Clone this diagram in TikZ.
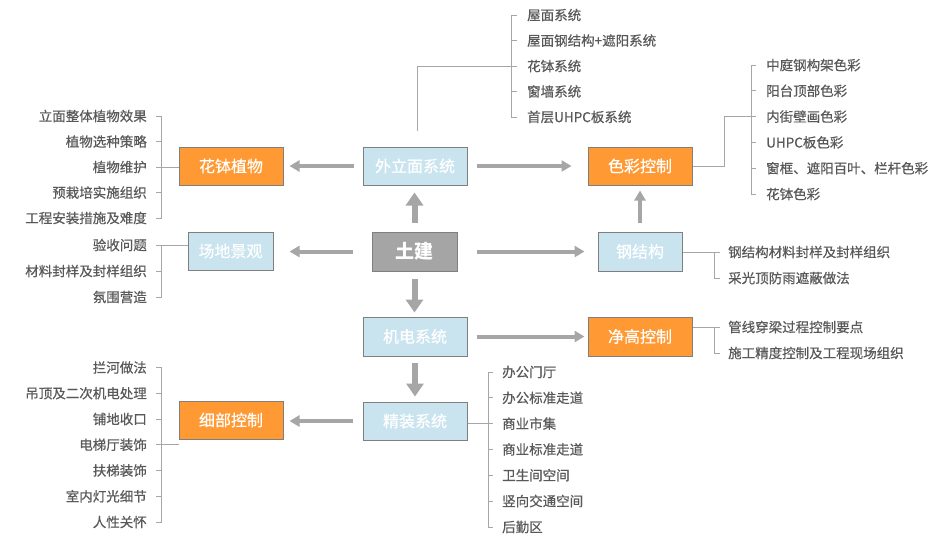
\documentclass[tikz,border=0pt]{standalone}
\usepackage{fontspec}
\setmainfont{Noto Sans CJK SC}
\newfontfamily\leaffont[FakeBold=0.6]{Noto Sans CJK SC}
\newfontfamily\boxfont[FakeBold=0.4]{Noto Sans CJK SC}
\usetikzlibrary{arrows.meta}
\definecolor{leaf}{HTML}{595959}
\definecolor{brgray}{HTML}{A6A6A6}
\definecolor{arrgray}{HTML}{A6A6A6}
\definecolor{boxline}{HTML}{7F7F7F}
\definecolor{lblue}{HTML}{C9E4EF}
\definecolor{orng}{HTML}{FF9933}
\definecolor{tjgray}{HTML}{A5A5A5}
\begin{document}
\begin{tikzpicture}[x=1pt,y=-1pt,
  box/.style={draw=boxline, line width=1pt, inner sep=0pt, minimum width=104pt, minimum height=38pt, text=white, font=\boxfont\fontsize{16}{18}\selectfont},
  bluebox/.style={box, fill=lblue},
  orangebox/.style={box, fill=orng},
  lf/.style={text=leaf, inner sep=0pt, font=\leaffont\fontsize{13.5}{16}\selectfont},
  arr/.style={draw=arrgray, line width=4pt, -{Triangle[length=10pt,width=11pt]}},
  thk/.style={line width=6pt, -{Triangle[length=13pt,width=17pt]}},
  br/.style={draw=brgray, line width=1pt}]
\useasboundingbox (0,0) rectangle (937,542);

% main boxes
\node[orangebox] (huabo) at (231,166) {花钵植物};
\node[bluebox, minimum width=85pt] (changdi) at (230.5,251) {场地景观};
\node[bluebox] (waili) at (415,166) {外立面系统};
\node[orangebox] (secai) at (640,166) {色彩控制};
\node[box, fill=tjgray, minimum width=85pt, minimum height=39pt, font=\bfseries\fontsize{19}{21}\selectfont] (tujian) at (414.5,251.5) {土建};
\node[bluebox, minimum width=84pt, minimum height=39pt] (gang) at (640,251.5) {钢结构};
\node[bluebox, minimum height=39pt] (jidian) at (415,336.5) {机电系统};
\node[orangebox, minimum height=39pt] (jinggao) at (640,336.5) {净高控制};
\node[bluebox] (jingzhuang) at (415,421) {精装系统};
\node[orangebox] (xibu) at (231,420) {细部控制};

% leaves
\foreach \t/\y [count=\i] in {立面整体植物效果/116, 植物选种策略/141.5, 植物维护/167, 预栽培实施组织/192.5, 工程安装措施及难度/218}
  \node[lf, anchor=east] (h\i) at (147,\y) {\t};
\foreach \t/\y [count=\i] in {验收问题/245, 材料封样及封样组织/271, 氛围营造/297}
  \node[lf, anchor=east] (c\i) at (147,\y) {\t};
\foreach \t/\y [count=\i] in {拦河做法/367.5, 吊顶及二次机电处理/393.25, 铺地收口/419, 电梯厅装饰/444.75, 扶梯装饰/470.5, 室内灯光细节/496.25, 人性关怀/522}
  \node[lf, anchor=east] (x\i) at (147,\y) {\t};
\foreach \t/\y [count=\i] in {屋面系统/15, 屋面钢结构+遮阳系统/40.5, 花钵系统/66, 窗墙系统/91.5, 首层UHPC板系统/117}
  \node[lf, anchor=west] (w\i) at (527,\y) {\t};
\foreach \t/\y [count=\i] in {中庭钢构架色彩/65, 阳台顶部色彩/90.8, 内街壁画色彩/116.6, UHPC板色彩/142.4, 窗框、遮阳百叶、栏杆色彩/168.2, 花钵色彩/194}
  \node[lf, anchor=west] (s\i) at (766,\y) {\t};
\foreach \t/\y [count=\i] in {钢结构材料封样及封样组织/252, 采光顶防雨遮蔽做法/278}
  \node[lf, anchor=west] (g\i) at (728,\y) {\t};
\foreach \t/\y [count=\i] in {管线穿梁过程控制要点/327, 施工精度控制及工程现场组织/353}
  \node[lf, anchor=west] (j\i) at (728,\y) {\t};
\foreach \t/\y [count=\i] in {办公门厅/372, 办公标准走道/397.8, 商业市集/423.6, 商业标准走道/449.4, 卫生间空间/475.2, 竖向交通空间/501, 后勤区/527}
  \node[lf, anchor=west] (z\i) at (502,\y) {\t};

% brackets: left lists
\draw[br] ([xshift=9pt]h1.east) -- ([xshift=14pt]h1.east) -- ([xshift=14pt]h5.east) -- ([xshift=9pt]h5.east);
\foreach \i in {2,4} \draw[br] ([xshift=9pt]h\i.east) -- ([xshift=14pt]h\i.east);
\draw[br] ([xshift=9pt]h3.east) -- (h3.east -| huabo.west);

\draw[br] ([xshift=9pt]c1.east) -- (c1.east -| changdi.west);
\draw[br] ([xshift=14pt]c1.east) -- ([xshift=14pt]c3.east) -- ([xshift=9pt]c3.east);
\draw[br] ([xshift=9pt]c2.east) -- ([xshift=14pt]c2.east);

\draw[br] ([xshift=9pt]x1.east) -- ([xshift=14pt]x1.east) -- ([xshift=14pt]x7.east) -- ([xshift=9pt]x7.east);
\foreach \i in {2,3,5,6} \draw[br] ([xshift=9pt]x\i.east) -- ([xshift=14pt]x\i.east);
\draw[br] ([xshift=9pt]x4.east) -- (x4.east -| xibu.west);

% top list
\draw[br] ([xshift=-10pt]w1.west) -- ([xshift=-16pt]w1.west) -- ([xshift=-16pt]w5.west) -- ([xshift=-10pt]w5.west);
\foreach \i in {2,4} \draw[br] ([xshift=-10pt]w\i.west) -- ([xshift=-16pt]w\i.west);
\coordinate (wtop) at (417,131);
\draw[br] (wtop) |- ([xshift=-10pt]w3.west);

% colour list
\draw[br] ([xshift=-10pt]s1.west) -- ([xshift=-15pt]s1.west) -- ([xshift=-15pt]s6.west) -- ([xshift=-10pt]s6.west);
\foreach \i in {2,4,5} \draw[br] ([xshift=-10pt]s\i.west) -- ([xshift=-15pt]s\i.west);
\draw[br] (secai.east) -- ++(32,0) |- ([xshift=-10pt]s3.west);

% steel list
\draw[br] (g1.west -| gang.east) -- ([xshift=-8pt]g1.west);
\draw[br] ([xshift=-14pt]g1.west) |- ([xshift=-8pt]g2.west);

% clear height list
\draw[br] (j1.west -| jinggao.east) -- ([xshift=-8pt]j1.west);
\draw[br] ([xshift=-14pt]j1.west) |- ([xshift=-8pt]j2.west);

% fit-out list
\draw[br] ([xshift=-9pt]z1.west) -- ([xshift=-14pt]z1.west) -- ([xshift=-14pt]z7.west) -- ([xshift=-9pt]z7.west);
\foreach \i in {2,4,5,6} \draw[br] ([xshift=-9pt]z\i.west) -- ([xshift=-14pt]z\i.west);
\draw[br] (z3.west -| jingzhuang.east) -- ([xshift=-9pt]z3.west);

% arrows
\draw[arr, shorten <=9pt, shorten >=6pt] (waili.west) -- (huabo.east);
\draw[arr, shorten <=9pt, shorten >=16pt] (waili.east) -- (secai.west);
\draw[arr, thk, shorten <=9pt, shorten >=7pt] (tujian.north) -- (tujian.north |- waili.south);
\draw[arr, shorten <=19pt, shorten >=16pt] (tujian.west) -- (tujian.west -| changdi.east);
\draw[arr, shorten <=19pt, shorten >=13pt] (tujian.east) -- (gang.west);
\draw[arr, thk, shorten <=7pt, shorten >=4pt] (tujian.south) -- (tujian.south |- jidian.north);
\draw[arr, shorten <=9pt, shorten >=5pt] (gang.north) -- (secai.south);
\draw[arr, shorten <=9pt, shorten >=3pt] (jidian.east) -- (jinggao.west);
\draw[arr, thk, shorten <=6pt, shorten >=5pt] (jidian.south) -- (jidian.south |- jingzhuang.north);
\draw[arr, shorten <=10pt, shorten >=6pt] (jingzhuang.west) -- (jingzhuang.west -| xibu.east);
\end{tikzpicture}
\end{document}
